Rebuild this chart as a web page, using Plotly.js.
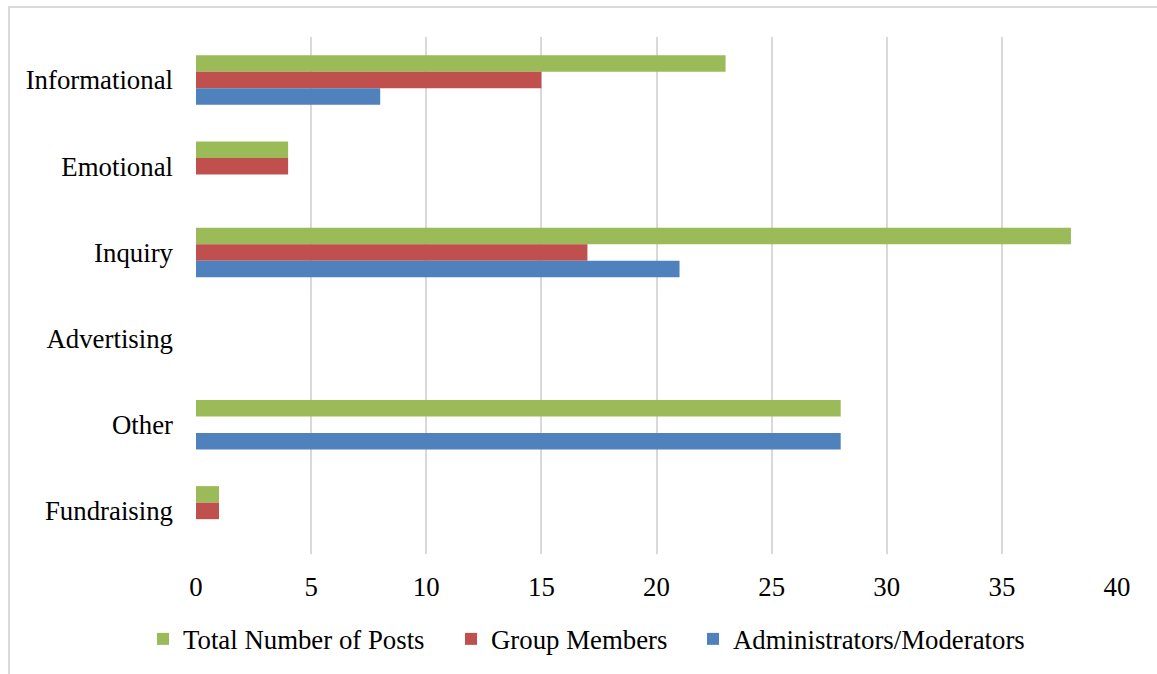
<!DOCTYPE html>
<html>
<head>
<meta charset="utf-8">
<script src="https://cdn.plot.ly/plotly-3.0.1.min.js"></script>
<style>
  html, body { margin: 0; padding: 0; background: #ffffff; }
  #wrap { position: relative; width: 1157px; height: 674px; overflow: hidden; }
  #frame { position: absolute; left: 8px; top: 6px; width: 1200px; height: 720px;
           border: 2px solid #d9d9d9; box-sizing: border-box; }
  #chart { position: absolute; left: 0; top: 0; width: 1157px; height: 674px; }
</style>
</head>
<body>
<div id="wrap">
  <div id="frame"></div>
  <div id="chart"></div>
</div>
<script>
// Post categories, listed top to bottom
const categories = ["Informational", "Emotional", "Inquiry", "Advertising", "Other", "Fundraising"];

// Counts per category for each group of posters
const totalPosts   = [23, 4, 38, 0, 28, 1];
const groupMembers = [15, 4, 17, 0, 0, 1];
const adminsMods   = [8, 0, 21, 0, 28, 0];

const seriesNames = ["Total Number of Posts", "Group Members", "Administrators/Moderators"];
const seriesColors = ["#9BBB59", "#C0504D", "#4F81BD"];
const xTicks = [0, 5, 10, 15, 20, 25, 30, 35, 40];

// each series gets its own legend box so the entries can be spaced out along the bottom row
const legendIds = ["legend", "legend2", "legend3"];
const legendLeft = [143, 451, 693];

const seriesValues = [totalPosts, groupMembers, adminsMods];
const traces = seriesValues.map((vals, i) => ({
  type: "bar",
  orientation: "h",
  name: seriesNames[i],
  y: categories,
  x: vals,
  legend: legendIds[i],
  marker: { color: seriesColors[i], line: { width: 0 } },
  hoverinfo: "x+name"
}));

const font = { family: "Liberation Serif, Times New Roman, serif", size: 26.8, color: "#000000" };

const layout = {
  width: 1157,
  height: 674,
  margin: { l: 196, r: 40, t: 37, b: 120 },
  paper_bgcolor: "rgba(0,0,0,0)",
  plot_bgcolor: "rgba(0,0,0,0)",
  font: font,
  barmode: "group",
  bargap: 0.425,
  bargroupgap: 0,
  showlegend: true,
  xaxis: {
    range: [0, 40],
    tickvals: xTicks,
    ticktext: xTicks.map(String),
    showgrid: true,
    gridcolor: "#d9d9d9",
    gridwidth: 2,
    zeroline: false,
    showline: false,
    ticks: "",
    ticklabelstandoff: 14,
    tickfont: font,
    fixedrange: true
  },
  yaxis: {
    type: "category",
    categoryorder: "array",
    categoryarray: categories,
    autorange: "reversed",
    showgrid: false,
    zeroline: false,
    showline: false,
    ticks: "",
    ticklabelstandoff: 22,
    tickfont: font,
    fixedrange: true
  }
};

legendIds.forEach((id, i) => {
  layout[id] = {
    orientation: "h",
    xref: "container",
    yref: "container",
    x: legendLeft[i] / 1157,
    xanchor: "left",
    y: 0.052,
    yanchor: "middle",
    font: font,
    bgcolor: "rgba(0,0,0,0)",
    itemwidth: 30
  };
});

Plotly.newPlot("chart", traces, layout, { displayModeBar: false, staticPlot: true });
</script>
</body>
</html>
